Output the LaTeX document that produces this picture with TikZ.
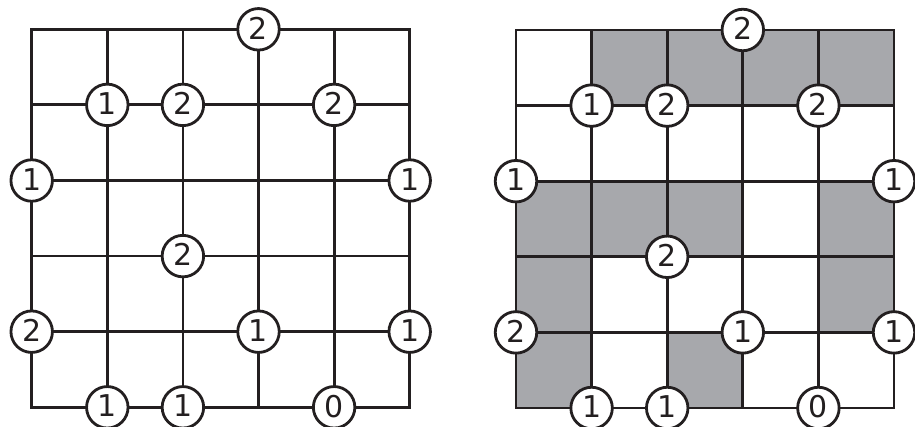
\documentclass[tikz,border=0pt]{standalone}
\usepackage{fontspec}
\setmainfont{DejaVu Sans}
\definecolor{cellgray}{RGB}{167,168,172}
\definecolor{ink}{RGB}{35,31,32}
\begin{document}
\begin{tikzpicture}[x=1pt,y=-1pt,
  gridline/.style={line width=2.8pt, draw=ink},
  num/.style={circle, draw=ink, line width=2.8pt, fill=white, minimum size=41.5pt,
    inner sep=0pt, text=ink, text depth=2.5pt, font=\fontsize{30}{30}\selectfont}]
\useasboundingbox (0,0) rectangle (915,427);
\def\cs{75.6}
% shaded cells of the right grid
\foreach \c/\r in {1/0,2/0,3/0,4/0, 0/2,1/2,2/2,4/2, 0/3,4/3, 0/4,2/4}
  \fill[cellgray] ({516+\c*\cs},{30+\r*\cs}) rectangle +(\cs,\cs);
% grids
\foreach \ox/\oy in {31.7/29.3, 516/30} {
  \foreach \i in {1,...,4} {
    \draw[gridline] ({\ox+\i*\cs},\oy) -- ({\ox+\i*\cs},{\oy+5*\cs});
    \draw[gridline] (\ox,{\oy+\i*\cs}) -- ({\ox+5*\cs},{\oy+\i*\cs});
  }
  \draw[gridline] (\ox,\oy) rectangle ({\ox+5*\cs},{\oy+5*\cs});
}
% numbered circles
\foreach \ox/\oy/\g in {31.7/29.3/L, 516/30/R} {
  \foreach \c/\r/\n in {3/0/2, 1/1/1, 2/1/2, 4/1/2, 0/2/1, 5/2/1, 2/3/2,
                        0/4/2, 3/4/1, 5/4/1, 1/5/1, 2/5/1, 4/5/0}
    \node[num] (\g\c\r) at ({\ox+\c*\cs},{\oy+\r*\cs}) {\n};
}
\end{tikzpicture}
\end{document}
